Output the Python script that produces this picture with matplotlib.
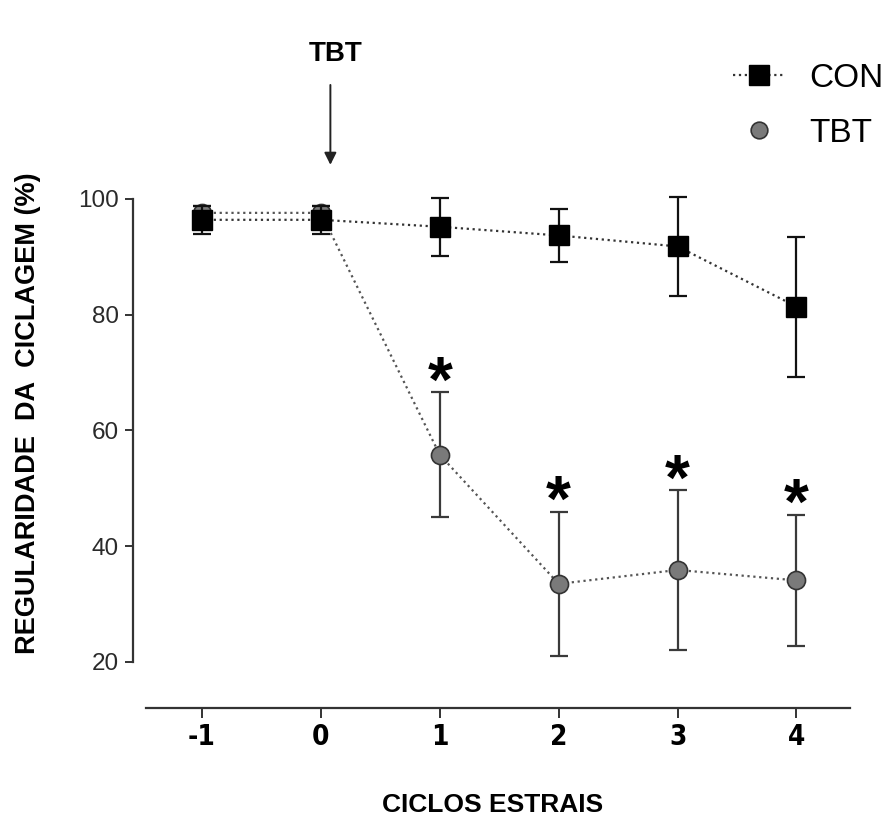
import matplotlib
matplotlib.use("Agg")
import matplotlib.pyplot as plt
from matplotlib.lines import Line2D
import numpy as np

plt.rcParams['font.family'] = ['Liberation Sans', 'DejaVu Sans']

# ---- data ----
cycles = [-1, 0, 1, 2, 3, 4]
con_mean = [96.4, 96.4, 95.2, 93.7, 91.8, 81.4]
con_err = [2.4, 2.4, 5.0, 4.6, 8.5, 12.1]
tbt_mean = [97.6, 97.6, 55.8, 33.5, 35.9, 34.1]
tbt_err = [1.2, 1.2, 10.8, 12.5, 13.8, 11.3]
signif = [False, False, True, True, True, True]
yticks = [20, 40, 60, 80, 100]
xtick_labels = ['-1', '0', '1', '2', '3', '4']

W, H = 894, 816
fig = plt.figure(figsize=(W / 100, H / 100), dpi=100)

# axes placement in pixels
ax_l, ax_r, ax_t, ax_b = 133, 850, 187.4, 708
ax = fig.add_axes([ax_l / W, 1 - ax_b / H, (ax_r - ax_l) / W, (ax_b - ax_t) / H])
ax.set_xlim(-1.58, 4.45)
ax.set_ylim(12.05, 102)

# TBT (drawn first, under CON)
ax.errorbar(cycles, tbt_mean, yerr=tbt_err, fmt='none', ecolor='#3a3a3a',
            elinewidth=1.6, capsize=6.5, capthick=1.6, zorder=2)
ax.plot(cycles, tbt_mean, linestyle=':', color='#555555', lw=1.6,
        marker='o', markersize=13, markerfacecolor='#7a7a7a',
        markeredgecolor='#333333', markeredgewidth=1.2, zorder=3)

# CON
ax.errorbar(cycles, con_mean, yerr=con_err, fmt='none', ecolor='#111111',
            elinewidth=1.6, capsize=6.5, capthick=1.6, zorder=4)
ax.plot(cycles, con_mean, linestyle=':', color='#333333', lw=1.6,
        marker='s', markersize=14, markerfacecolor='black',
        markeredgecolor='black', zorder=5)

# significance asterisks
for x, m, e, s in zip(cycles, tbt_mean, tbt_err, signif):
    if s:
        ax.annotate('*', xy=(x, m + e), xytext=(0, -16), textcoords='offset points',
                    ha='center', va='bottom', fontsize=46, fontweight='bold',
                    color='black', annotation_clip=False)

# spines
for side in ['top', 'right']:
    ax.spines[side].set_visible(False)
ax.spines['left'].set_bounds(20, 100)
ax.spines['bottom'].set_bounds(-1.47, 4.45)
for side in ['left', 'bottom']:
    ax.spines[side].set_linewidth(1.6)
    ax.spines[side].set_color('#333333')

ax.set_yticks(yticks)
ax.set_yticklabels([str(v) for v in yticks])
ax.set_xticks(cycles)
ax.set_xticklabels(xtick_labels)
ax.tick_params(axis='y', direction='out', length=6, width=1.4, color='#333333',
               labelsize=17.5, labelcolor='#2a2a2a', pad=4)
ax.tick_params(axis='x', direction='out', length=7, width=1.4, color='#333333',
               labelsize=20, pad=4)
for lab in ax.get_xticklabels():
    lab.set_fontfamily(['DejaVu Sans'])
    lab.set_fontstretch('condensed')
    lab.set_fontweight('bold')

# axis titles
fig.text(28 / W, 1 - 413 / H, 'REGULARIDADE  DA  CICLAGEM (%)', rotation=90,
         ha='center', va='center', fontsize=19.5, fontweight='bold')
fig.text(493 / W, 1 - 805 / H, 'CICLOS ESTRAIS', ha='center', va='center',
         fontsize=19, fontweight='bold')

# TBT arrow
ax.annotate('', xy=(0.08, 105.9), xytext=(0.08, 119.7),
            arrowprops=dict(arrowstyle='-|>', color='#222222', lw=1.4,
                            mutation_scale=18, shrinkA=0, shrinkB=0),
            annotation_clip=False)
fig.text(336 / W, 1 - 54 / H, 'TBT', ha='center', va='center',
         fontsize=20, fontweight='bold')

# legend
handles = [
    Line2D([], [], linestyle=':', color='#333333', lw=1.6, marker='s',
           markersize=14, markerfacecolor='black', markeredgecolor='black'),
    Line2D([], [], linestyle='none', marker='o', markersize=12,
           markerfacecolor='#7a7a7a', markeredgecolor='#333333', markeredgewidth=1.2),
]
fig.legend(handles, ['CON', 'TBT'], loc='upper left',
           bbox_to_anchor=(733 / W, 1 - 63 / H), frameon=False, fontsize=24,
           borderpad=0, borderaxespad=0, handlelength=1.55, handletextpad=0.75,
           labelspacing=0.72, numpoints=1)

fig.savefig('out.png', dpi=100)
